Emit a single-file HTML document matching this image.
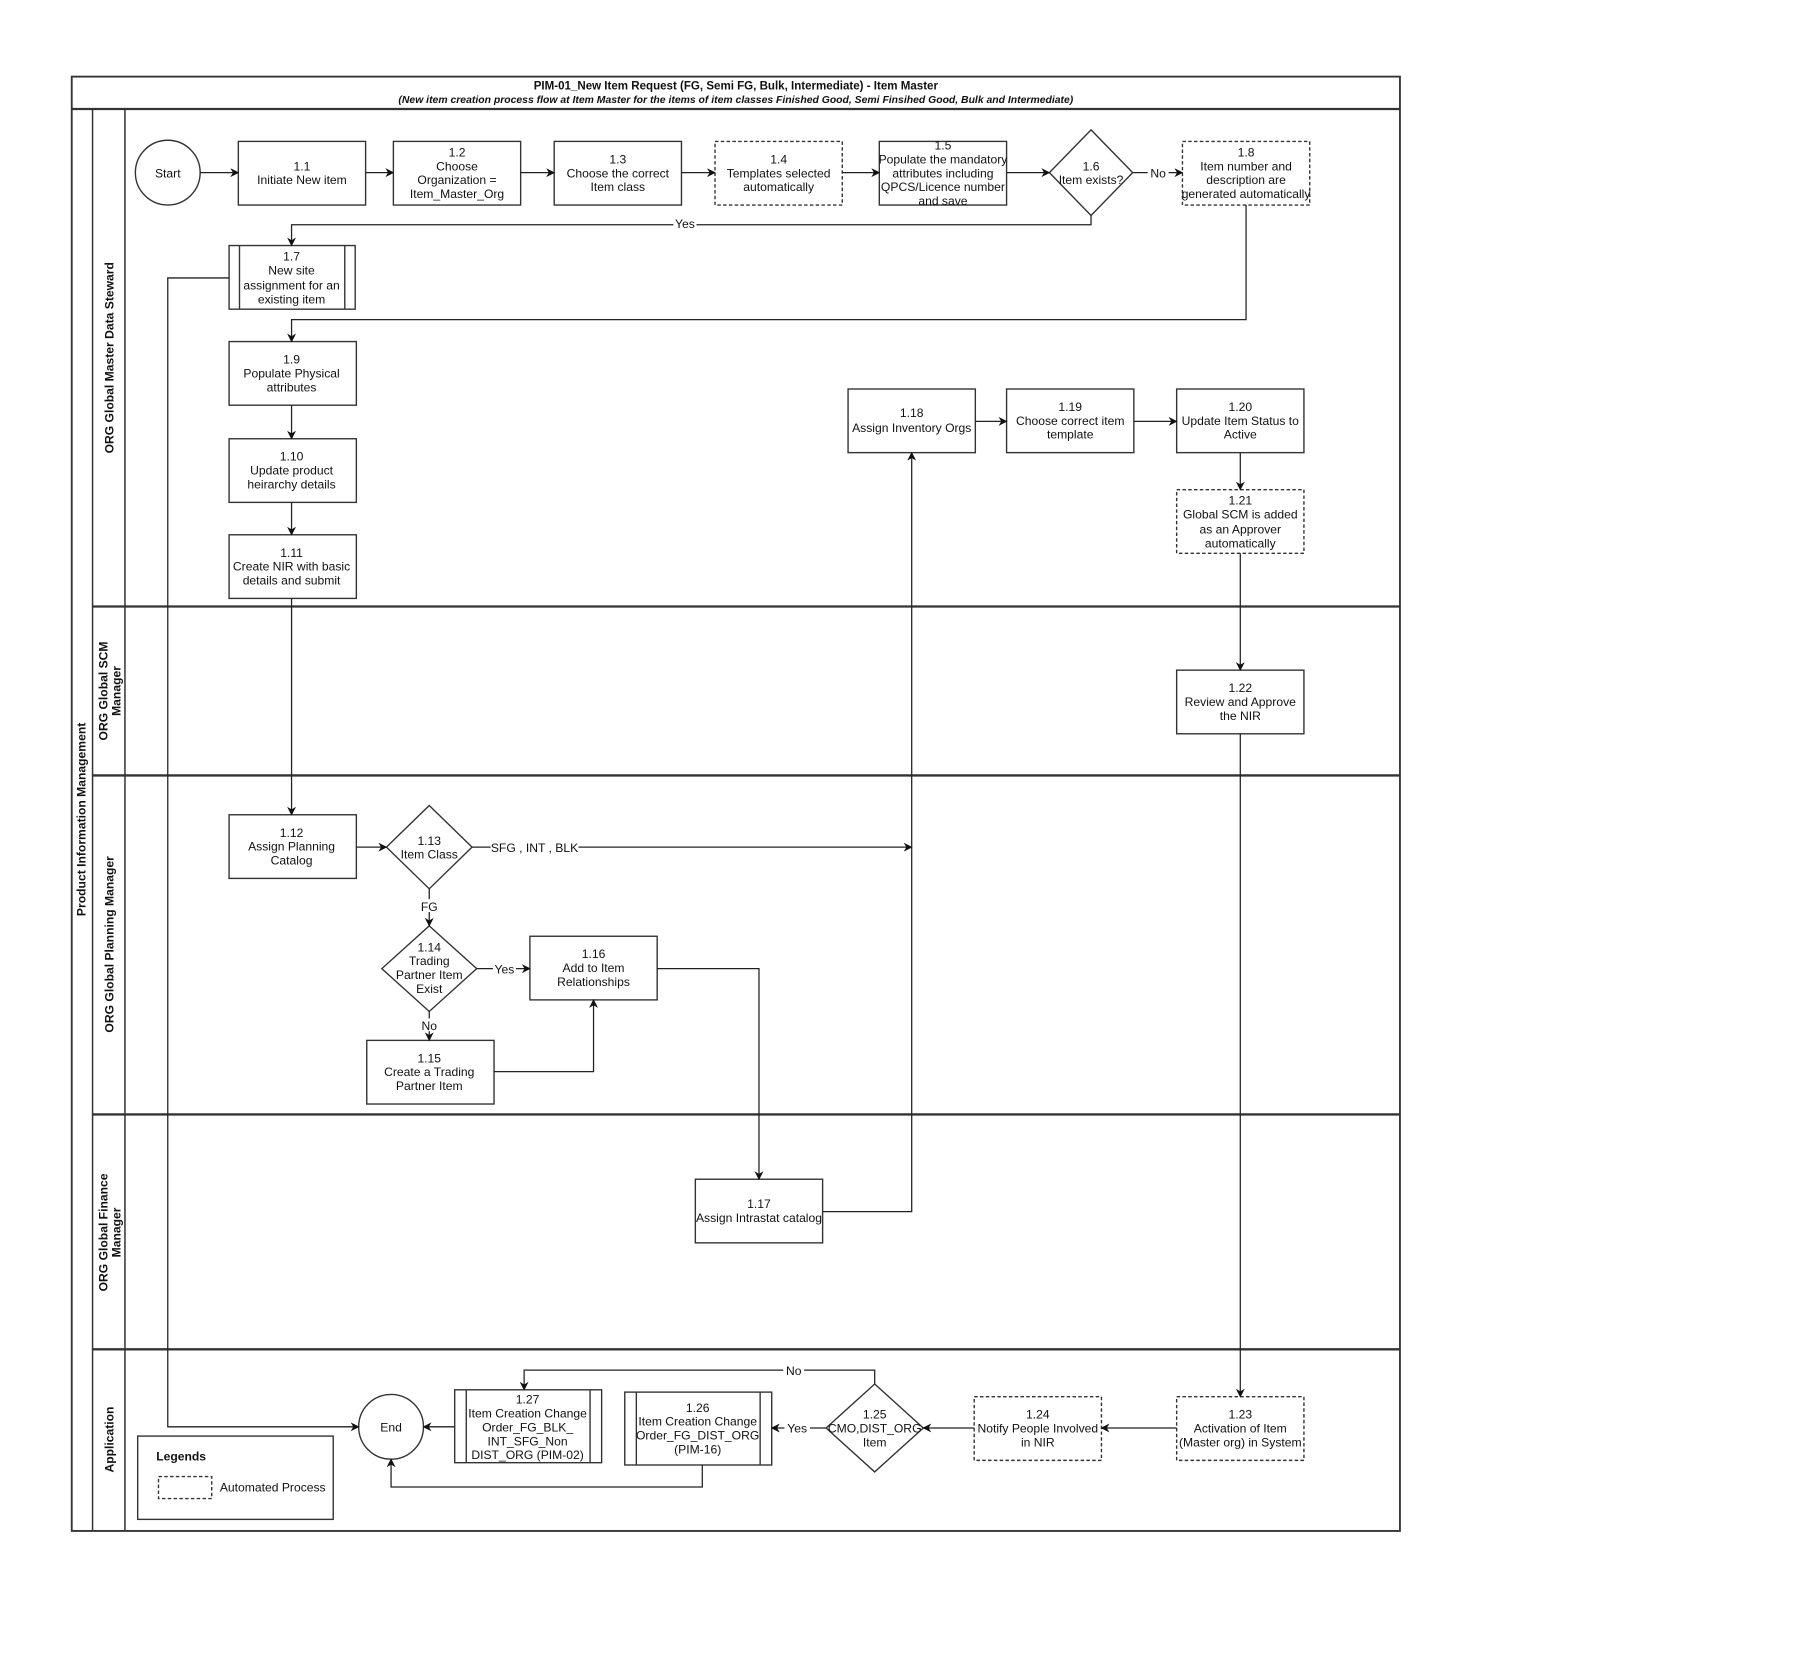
<!DOCTYPE html>
<html><head><meta charset="utf-8"><style>
html,body{margin:0;padding:0;background:#fff;}
svg{display:block;}
text{font-family:"Liberation Sans",sans-serif;font-size:10.5px;fill:#111;}
.b{font-weight:bold;}
</style></head><body>
<svg width="1813" height="1655" viewBox="0 0 1567 1430" xmlns="http://www.w3.org/2000/svg">
<defs>
<marker id="a" viewBox="0 0 10 10" refX="9" refY="5" markerWidth="7" markerHeight="7" orient="auto"><path d="M0,0 L10,5 L0,10 L3,5 z" fill="#111"/></marker>
</defs>
<g fill="none" stroke="#333" stroke-width="1.3">
<rect x="62" y="66" width="1148" height="1257" stroke-width="1.6"/>
<line x1="62" y1="94" x2="1210" y2="94" stroke-width="2"/>
<line x1="80" y1="94" x2="80" y2="1323"/>
<line x1="108" y1="94" x2="108" y2="1323"/>
<line x1="80" y1="524" x2="1210" y2="524" stroke-width="2"/>
<line x1="80" y1="670" x2="1210" y2="670" stroke-width="2"/>
<line x1="80" y1="963" x2="1210" y2="963" stroke-width="2"/>
<line x1="80" y1="1166" x2="1210" y2="1166" stroke-width="2"/>
</g>
<text x="636" y="77" text-anchor="middle" class="b" style="font-size:10px">PIM-01_New Item Request (FG, Semi FG, Bulk, Intermediate) - Item Master</text>
<text x="636" y="89" text-anchor="middle" class="b" style="font-size:9px;font-style:italic">(New item creation process flow at Item Master for the items of item classes Finished Good, Semi Finsihed Good, Bulk and Intermediate)</text>
<g class="b" style="font-size:10px" text-anchor="middle">
<text transform="translate(74,708) rotate(-90)" class="b">Product Information Management</text>
<text transform="translate(98,309) rotate(-90)" class="b">ORG Global Master Data Steward</text>
<text transform="translate(93,597) rotate(-90)" class="b">ORG Global SCM</text>
<text transform="translate(104,597) rotate(-90)" class="b">Manager</text>
<text transform="translate(98,816) rotate(-90)" class="b">ORG Global Planning Manager</text>
<text transform="translate(93,1065) rotate(-90)" class="b">ORG Global Finance</text>
<text transform="translate(104,1065) rotate(-90)" class="b">Manager</text>
<text transform="translate(98,1244) rotate(-90)" class="b">Application</text>
</g>
<!-- shapes -->
<g fill="#fff" stroke="#333" stroke-width="1.2">
<circle cx="145" cy="149" r="28"/>
<rect x="206" y="122" width="110" height="55"/>
<rect x="340" y="122" width="110" height="55"/>
<rect x="479" y="122" width="110" height="55"/>
<rect x="618" y="122" width="110" height="55" stroke-dasharray="3,2"/>
<rect x="760" y="122" width="110" height="55"/>
<path d="M943,112 L979,149 L943,186 L907,149 Z"/>
<rect x="1022" y="122" width="110" height="55" stroke-dasharray="3,2"/>
<rect x="198" y="212" width="109" height="55"/>
<line x1="207" y1="212" x2="207" y2="267"/><line x1="298" y1="212" x2="298" y2="267"/>
<rect x="198" y="295" width="110" height="55"/>
<rect x="198" y="379" width="110" height="55"/>
<rect x="198" y="462" width="110" height="55"/>
<rect x="733" y="336" width="110" height="55"/>
<rect x="870" y="336" width="110" height="55"/>
<rect x="1017" y="336" width="110" height="55"/>
<rect x="1017" y="423" width="110" height="55" stroke-dasharray="3,2"/>
<rect x="1017" y="579" width="110" height="55"/>
<rect x="198" y="704" width="110" height="55"/>
<path d="M371,696 L408,732 L371,768 L334,732 Z"/>
<path d="M371,800 L412,837 L371,874 L330,837 Z"/>
<rect x="458" y="809" width="110" height="55"/>
<rect x="317" y="899" width="110" height="55"/>
<rect x="601" y="1019" width="110" height="55"/>
<rect x="1017" y="1207" width="110" height="55" stroke-dasharray="3,2"/>
<rect x="842" y="1207" width="110" height="55" stroke-dasharray="3,2"/>
<path d="M756,1196 L798,1234 L756,1272 L714,1234 Z"/>
<rect x="540" y="1203" width="127" height="63"/>
<line x1="550" y1="1203" x2="550" y2="1266"/><line x1="657" y1="1203" x2="657" y2="1266"/>
<rect x="393" y="1201" width="127" height="63"/>
<line x1="403" y1="1201" x2="403" y2="1264"/><line x1="510" y1="1201" x2="510" y2="1264"/>
<circle cx="338" cy="1233" r="28"/>
<rect x="119" y="1241" width="169" height="72"/>
<rect x="137" y="1276" width="46" height="19" stroke-dasharray="3,2"/>
</g>
<!-- connectors -->
<g fill="none" stroke="#222" stroke-width="1.1" marker-end="url(#a)">
<line x1="173" y1="149" x2="206" y2="149"/>
<line x1="316" y1="149" x2="340" y2="149"/>
<line x1="450" y1="149" x2="479" y2="149"/>
<line x1="589" y1="149" x2="618" y2="149"/>
<line x1="728" y1="149" x2="760" y2="149"/>
<line x1="870" y1="149" x2="907" y2="149"/>
<line x1="979" y1="149" x2="1022" y2="149"/>
<polyline points="943,186 943,194 252,194 252,212"/>
<polyline points="1077,177 1077,276 252,276 252,295"/>
<line x1="252" y1="350" x2="252" y2="379"/>
<line x1="252" y1="434" x2="252" y2="462"/>
<line x1="252" y1="517" x2="252" y2="704"/>
<polyline points="198,240 145,240 145,1233 310,1233"/>
<line x1="308" y1="732" x2="334" y2="732"/>
<line x1="408" y1="732" x2="788" y2="732"/>
<line x1="371" y1="768" x2="371" y2="800"/>
<line x1="412" y1="837" x2="458" y2="837"/>
<line x1="371" y1="874" x2="371" y2="899"/>
<polyline points="427,926 513,926 513,864"/>
<polyline points="568,837 656,837 656,1019"/>
<polyline points="711,1047 788,1047 788,391"/>
<line x1="843" y1="364" x2="870" y2="364"/>
<line x1="980" y1="364" x2="1017" y2="364"/>
<line x1="1072" y1="391" x2="1072" y2="423"/>
<line x1="1072" y1="478" x2="1072" y2="579"/>
<line x1="1072" y1="634" x2="1072" y2="1207"/>
<line x1="1017" y1="1234" x2="952" y2="1234"/>
<line x1="842" y1="1234" x2="798" y2="1234"/>
<line x1="714" y1="1234" x2="667" y2="1234"/>
<polyline points="756,1196 756,1184 453,1184 453,1201"/>
<line x1="393" y1="1233" x2="366" y2="1233"/>
<polyline points="607,1266 607,1285 338,1285 338,1261"/>
</g>
<!-- edge labels -->
<g text-anchor="middle">
<rect x="582" y="188" width="20" height="11" fill="#fff"/><text x="592" y="197">Yes</text>
<rect x="992" y="143" width="18" height="11" fill="#fff"/><text x="1001" y="153">No</text>
<rect x="424" y="726" width="76" height="12" fill="#fff"/><text x="462" y="736">SFG , INT , BLK</text>
<rect x="362" y="777" width="18" height="11" fill="#fff"/><text x="371" y="787">FG</text>
<rect x="426" y="831" width="20" height="11" fill="#fff"/><text x="436" y="841">Yes</text>
<rect x="363" y="880" width="16" height="11" fill="#fff"/><text x="371" y="890">No</text>
<rect x="678" y="1228" width="22" height="11" fill="#fff"/><text x="689" y="1238">Yes</text>
<rect x="677" y="1178" width="18" height="11" fill="#fff"/><text x="686" y="1188">No</text>
</g>
<!-- node labels -->
<g text-anchor="middle">
<text x="145" y="153">Start</text>
<text x="261" y="147">1.1</text><text x="261" y="159">Initiate New item</text>
<text x="395" y="135">1.2</text><text x="395" y="147">Choose</text><text x="395" y="159">Organization =</text><text x="395" y="171">Item_Master_Org</text>
<text x="534" y="141">1.3</text><text x="534" y="153">Choose the correct</text><text x="534" y="165">Item class</text>
<text x="673" y="141">1.4</text><text x="673" y="153">Templates selected</text><text x="673" y="165">automatically</text>
<text x="815" y="129">1.5</text><text x="815" y="141">Populate the mandatory</text><text x="815" y="153">attributes including</text><text x="815" y="165">QPCS/Licence number</text><text x="815" y="177">and save</text>
<text x="943" y="147">1.6</text><text x="943" y="159">Item exists?</text>
<text x="1077" y="135">1.8</text><text x="1077" y="147">Item number and</text><text x="1077" y="159">description are</text><text x="1077" y="171">generated automatically</text>
<text x="252" y="225">1.7</text><text x="252" y="237">New site</text><text x="252" y="250">assignment for an</text><text x="252" y="262">existing item</text>
<text x="252" y="314">1.9</text><text x="252" y="326">Populate Physical</text><text x="252" y="338">attributes</text>
<text x="252" y="398">1.10</text><text x="252" y="410">Update product</text><text x="252" y="422">heirarchy details</text>
<text x="252" y="481">1.11</text><text x="252" y="493">Create NIR with basic</text><text x="252" y="505">details and submit</text>
<text x="788" y="360">1.18</text><text x="788" y="373">Assign Inventory Orgs</text>
<text x="925" y="355">1.19</text><text x="925" y="367">Choose correct item</text><text x="925" y="379">template</text>
<text x="1072" y="355">1.20</text><text x="1072" y="367">Update Item Status to</text><text x="1072" y="379">Active</text>
<text x="1072" y="436">1.21</text><text x="1072" y="448">Global SCM is added</text><text x="1072" y="461">as an Approver</text><text x="1072" y="473">automatically</text>
<text x="1072" y="598">1.22</text><text x="1072" y="610">Review and Approve</text><text x="1072" y="622">the NIR</text>
<text x="252" y="723">1.12</text><text x="252" y="735">Assign Planning</text><text x="252" y="747">Catalog</text>
<text x="371" y="730">1.13</text><text x="371" y="742">Item Class</text>
<text x="371" y="822">1.14</text><text x="371" y="834">Trading</text><text x="371" y="846">Partner Item</text><text x="371" y="858">Exist</text>
<text x="513" y="828">1.16</text><text x="513" y="840">Add to Item</text><text x="513" y="852">Relationships</text>
<text x="371" y="918">1.15</text><text x="371" y="930">Create a Trading</text><text x="371" y="942">Partner Item</text>
<text x="656" y="1044">1.17</text><text x="656" y="1056">Assign Intrastat catalog</text>
<text x="1072" y="1226">1.23</text><text x="1072" y="1238">Activation of Item</text><text x="1072" y="1250">(Master org) in System</text>
<text x="897" y="1226">1.24</text><text x="897" y="1238">Notify People Involved</text><text x="897" y="1250">in NIR</text>
<text x="756" y="1226">1.25</text><text x="756" y="1238">CMO,DIST_ORG</text><text x="756" y="1250">Item</text>
<text x="603" y="1220">1.26</text><text x="603" y="1232">Item Creation Change</text><text x="603" y="1244">Order_FG_DIST_ORG</text><text x="603" y="1256">(PIM-16)</text>
<text x="456" y="1213">1.27</text><text x="456" y="1225">Item Creation Change</text><text x="456" y="1237">Order_FG_BLK_</text><text x="456" y="1249">INT_SFG_Non</text><text x="456" y="1261">DIST_ORG (PIM-02)</text>
<text x="338" y="1237">End</text>
</g>
<text x="135" y="1262" class="b">Legends</text>
<text x="190" y="1289">Automated Process</text>
</svg>
</body></html>
